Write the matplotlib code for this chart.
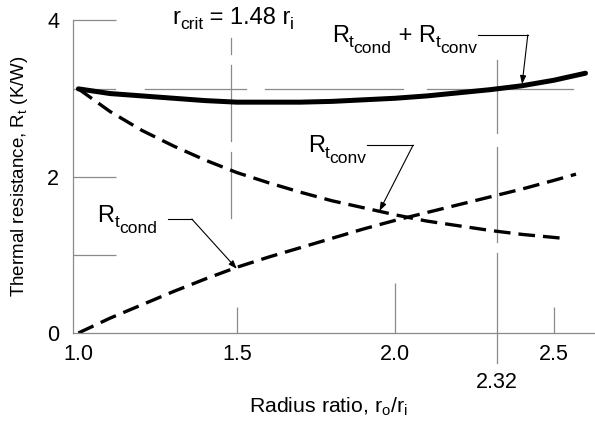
import matplotlib
matplotlib.use('Agg')
import matplotlib.pyplot as plt
import numpy as np

plt.rcParams['font.family'] = ['Liberation Sans', 'DejaVu Sans']
plt.rcParams['mathtext.fontset'] = 'custom'
plt.rcParams['mathtext.rm'] = 'Liberation Sans'
plt.rcParams['mathtext.it'] = 'Liberation Sans:italic'

# values (radius ratio r_o/r_i vs resistance, K/W)
r_cond = [1.0, 1.1, 1.2, 1.3, 1.4, 1.5, 1.6, 1.7, 1.8, 1.9, 2.0, 2.1, 2.2, 2.3, 2.4, 2.5, 2.57]
R_cond = [0.0, 0.19, 0.36, 0.53, 0.69, 0.84, 0.97, 1.09, 1.21, 1.33, 1.44, 1.54, 1.64, 1.74, 1.84, 1.95, 2.03]

r_conv = [1.0, 1.1, 1.2, 1.3, 1.4, 1.5, 1.6, 1.7, 1.8, 1.9, 2.0, 2.1, 2.2, 2.3, 2.4, 2.53]
R_conv = [3.12, 2.83, 2.59, 2.39, 2.21, 2.05, 1.92, 1.80, 1.69, 1.60, 1.51, 1.43, 1.37, 1.31, 1.26, 1.21]

r_tot = [1.0, 1.1, 1.2, 1.3, 1.4, 1.5, 1.6, 1.7, 1.8, 1.9, 2.0, 2.1, 2.2, 2.3, 2.4, 2.5, 2.6]
R_tot = [3.12, 3.06, 3.03, 3.00, 2.97, 2.95, 2.95, 2.95, 2.96, 2.98, 3.00, 3.03, 3.07, 3.11, 3.16, 3.23, 3.32]

r_crit = 1.48
r_equal = 2.32
R_bare = 3.12

x_ticks = [1.0, 1.5, 2.0, 2.5]
x_tick_labels = ['1.0', '1.5', '2.0', '2.5']
y_ticks = [0, 2, 4]
y_tick_labels = ['0', '2', '4']

gray = '#8a8a8a'

fig = plt.figure(figsize=(5.95, 4.23), dpi=100)
ax = fig.add_axes([73 / 595, 1 - 333 / 423, 1 - 73 / 595, (333 - 20) / 423])
x0, x1 = 0.983, 2.63
ax.set_xlim(x0, x1)
ax.set_ylim(0, 4)

for s in ['top', 'right']:
    ax.spines[s].set_visible(False)
for s in ['left', 'bottom']:
    ax.spines[s].set_color(gray)
    ax.spines[s].set_linewidth(0.9)

ax.set_xticks(x_ticks)
ax.set_xticklabels(x_tick_labels, fontsize=15.5)
ax.set_yticks(y_ticks)
ax.set_yticklabels(y_tick_labels, fontsize=15.5)
ax.tick_params(axis='both', length=0)
ax.tick_params(axis='x', pad=8)
ax.tick_params(axis='y', pad=10)

# tick-like guide lines inside the axes
ax.hlines([1, 2, 4], x0, x0 + 43 / 317, color=gray, lw=0.9, clip_on=False)
ax.vlines([1.5, 2.0, 2.5], 0, [0.33, 0.64, 0.33], color=gray, lw=0.9)

# reference line at bare-tube resistance
for a, b in [(0.983, 1.115), (1.21, 1.53), (1.59, 2.025), (2.10, 2.56)]:
    ax.plot([a, b], [R_bare, R_bare], color=gray, lw=0.9)

# r_crit marker
for a, b in [(3.77, 3.56), (3.42, 2.46), (2.31, 1.47)]:
    ax.plot([r_crit, r_crit], [a, b], color=gray, lw=0.9)
# r where insulated resistance returns to bare value
for a, b in [(3.49, 2.55), (2.38, 1.16), (1.02, -0.38)]:
    ax.plot([r_equal, r_equal], [a, b], color=gray, lw=0.9, clip_on=False)

ax.plot(r_tot, R_tot, color='black', lw=3.6, solid_capstyle='round')
ax.plot(r_conv, R_conv, color='black', lw=2.4, dashes=(5, 2.4))
ax.plot(r_cond, R_cond, color='black', lw=2.4, dashes=(5, 2.4))

fs = 17
fs_sub = 12.5


def chain(x, y, parts):
    # parts: (text, fontsize, drop below main baseline in points)
    prev = ax.text(x, y, parts[0][0], fontsize=parts[0][1], va='baseline')
    prev_drop, prev_size = parts[0][2], parts[0][1]
    for s, size, drop in parts[1:]:
        # bottom-aligned boxes: correct for descent difference
        dy = -(drop - prev_drop) - 0.21 * (size - prev_size)
        prev = ax.annotate(s, xy=(1, 0), xycoords=prev, xytext=(0, dy),
                           textcoords='offset points', fontsize=size, va='bottom')
        prev_drop, prev_size = drop, size


chain(1.295, 3.95, [('r', fs, 0), ('crit', fs_sub, 3.5), (' = 1.48 r', fs, 0), ('i', fs_sub, 3.5)])
chain(1.80, 3.72, [('R', fs, 0), ('t', fs_sub, 3.5), ('cond', fs_sub, 7.5),
                   (' + R', fs, 0), ('t', fs_sub, 3.5), ('conv', fs_sub, 7.5)])
chain(1.724, 2.31, [('R', fs, 0), ('t', fs_sub, 3.5), ('conv', fs_sub, 7.5)])
chain(1.06, 1.42, [('R', fs, 0), ('t', fs_sub, 3.5), ('cond', fs_sub, 7.5)])

arrow = dict(arrowstyle='-|>,head_length=0.5,head_width=0.18', color='black', lw=0.8,
             shrinkA=0, shrinkB=0)
leaders = [
    ((2.26, 2.418, 3.81), (r_tot[14], R_tot[14] + 0.02)),
    ((1.91, 2.056, 2.40), (1.95, 1.56)),
    ((1.282, 1.358, 1.456), (r_cond[5], R_cond[5] - 0.02)),
]
for (xa, xb, yl), tip in leaders:
    ax.plot([xa, xb], [yl, yl], color='black', lw=0.8)
    ax.annotate('', xy=tip, xytext=(xb, yl), arrowprops=arrow)

ax.text(r_equal, -0.63, '2.32', fontsize=15.5, ha='center', va='center', clip_on=False)

fig.text(328 / 595, 1 - 407 / 423, r'Radius ratio, r$_{\mathrm{o}}$/r$_{\mathrm{i}}$',
         fontsize=15.3, ha='center', va='center')
fig.text(20 / 595, 1 - 176 / 423, r'Thermal resistance, R$_{\mathrm{t}}$ (K/W)',
         fontsize=13.5, ha='center', va='center', rotation=90)

fig.savefig('out.png', dpi=100)
